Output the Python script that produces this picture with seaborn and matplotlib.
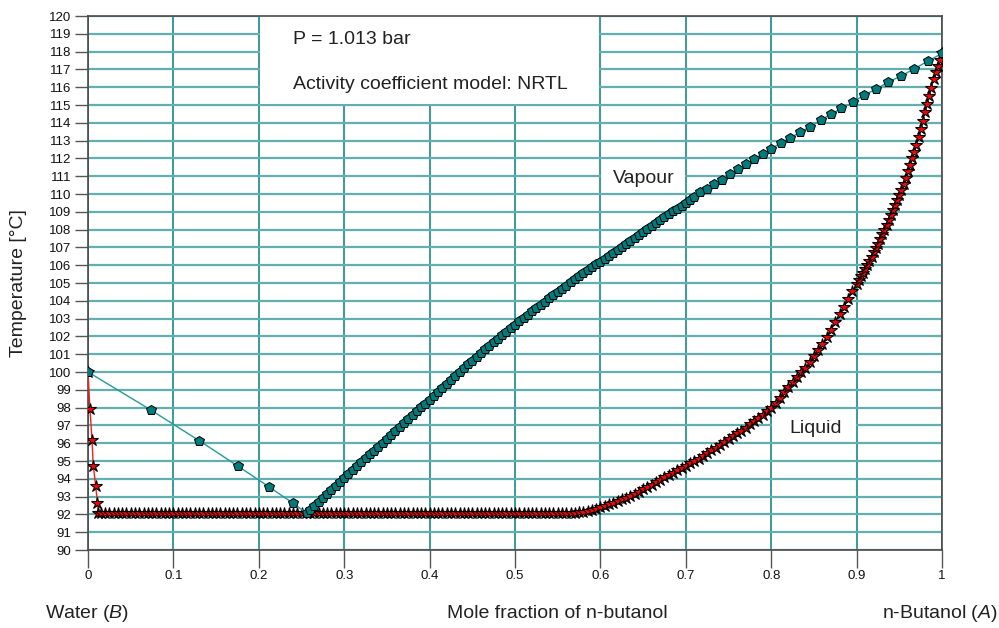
import matplotlib
matplotlib.use("Agg")
import matplotlib.pyplot as plt
from matplotlib.patches import Rectangle
import seaborn as sns

sns.set_style("white")
plt.rcParams["font.family"] = ["Liberation Sans", "DejaVu Sans"]
plt.rcParams["mathtext.fontset"] = "custom"
plt.rcParams["mathtext.rm"] = "Liberation Sans"
plt.rcParams["mathtext.it"] = "Liberation Sans:italic"

# --- data (water / n-butanol, 1.013 bar) ---
T_HET = 92.06  # three-phase temperature

liq_left_x = [0.0, 0.0023, 0.0047, 0.0062, 0.009, 0.011]
liq_left_t = [100.0, 97.9, 96.18, 94.72, 93.6, 92.66]

liq_flat_x = [
    0.012, 0.015, 0.02, 0.025, 0.03, 0.035, 0.04, 0.045, 0.05, 0.055, 0.06,
    0.065, 0.07, 0.075, 0.08, 0.085, 0.09, 0.095, 0.1, 0.105, 0.11, 0.115,
    0.12, 0.125, 0.13, 0.135, 0.14, 0.145, 0.15, 0.155, 0.16, 0.165, 0.17,
    0.175, 0.18, 0.185, 0.19, 0.195, 0.2, 0.205, 0.21, 0.215, 0.22, 0.225,
    0.23, 0.235, 0.24, 0.245, 0.25, 0.255, 0.26, 0.265, 0.27, 0.275, 0.28,
    0.285, 0.29, 0.295, 0.3, 0.305, 0.31, 0.315, 0.32, 0.325, 0.33, 0.335,
    0.34, 0.345, 0.35, 0.355, 0.36, 0.365, 0.37, 0.375, 0.38, 0.385, 0.39,
    0.395, 0.4, 0.405, 0.41, 0.415, 0.42, 0.425, 0.43, 0.435, 0.44, 0.445,
    0.45, 0.455, 0.46, 0.465, 0.47, 0.475, 0.48, 0.485, 0.49, 0.495, 0.5,
    0.505, 0.51, 0.515, 0.52, 0.525, 0.53, 0.535, 0.54, 0.545, 0.55, 0.555,
    0.56, 0.565,
]

liq_rise_x = [
    0.57, 0.575, 0.58, 0.585, 0.59, 0.595, 0.6, 0.605, 0.61, 0.615, 0.62,
    0.625, 0.63, 0.635, 0.64, 0.645, 0.65, 0.655, 0.66, 0.665, 0.67, 0.675,
    0.68, 0.685, 0.69, 0.695, 0.7, 0.705, 0.71, 0.715, 0.72, 0.725, 0.73,
    0.735, 0.74, 0.745, 0.75, 0.755, 0.76, 0.765, 0.77, 0.775, 0.78, 0.785,
    0.79, 0.795, 0.8, 0.805, 0.81, 0.815, 0.82, 0.825, 0.83, 0.835, 0.84,
    0.845, 0.85, 0.855, 0.86, 0.865, 0.87, 0.875, 0.88, 0.885, 0.89, 0.895,
    0.9, 0.9025, 0.905, 0.9075, 0.91, 0.9125, 0.915, 0.9175, 0.92, 0.9225,
    0.925, 0.9275, 0.93, 0.9325, 0.935, 0.9375, 0.94, 0.9425, 0.945, 0.9475,
    0.95, 0.9525, 0.955, 0.9575, 0.96, 0.9625, 0.965, 0.9675, 0.97, 0.9725,
    0.975, 0.9775, 0.98, 0.9825, 0.985, 0.9875, 0.99, 0.9925, 0.995, 0.9975,
    1.0,
]
liq_rise_t = [
    92.08, 92.12, 92.16, 92.21, 92.27, 92.33, 92.40, 92.48, 92.56, 92.65, 92.74,
    92.84, 92.94, 93.05, 93.16, 93.28, 93.40, 93.53, 93.67, 93.80, 93.94, 94.08,
    94.22, 94.35, 94.48, 94.60, 94.72, 94.86, 94.99, 95.13, 95.28, 95.44, 95.60,
    95.75, 95.91, 96.07, 96.23, 96.39, 96.55, 96.71, 96.88, 97.06, 97.24, 97.42,
    97.61, 97.80, 98.00, 98.28, 98.56, 98.85, 99.15, 99.44, 99.71, 99.98, 100.25,
    100.56, 100.88, 101.21, 101.58, 101.98, 102.38, 102.80, 103.24, 103.68, 104.10, 104.53,
    104.95, 105.16, 105.37, 105.57, 105.78, 106.01, 106.25, 106.48, 106.72, 106.95,
    107.19, 107.45, 107.73, 108.00, 108.28, 108.55, 108.83, 109.10, 109.38, 109.66,
    109.95, 110.25, 110.55, 110.92, 111.30, 111.65, 112.00, 112.38, 112.75, 113.20,
    113.65, 114.12, 114.60, 115.05, 115.50, 115.98, 116.45, 116.85, 117.20, 117.55,
    117.90,
]

vap_left_x = [0.0, 0.0734, 0.1303, 0.1753, 0.2115, 0.2404, 0.256]
vap_left_t = [100.0, 97.87, 96.14, 94.72, 93.56, 92.62, 92.06]

vap_mid_x = [
    0.26, 0.265, 0.27, 0.275, 0.28, 0.285, 0.29, 0.295, 0.3, 0.305, 0.31,
    0.315, 0.32, 0.325, 0.33, 0.335, 0.34, 0.345, 0.35, 0.355, 0.36, 0.365,
    0.37, 0.375, 0.38, 0.385, 0.39, 0.395, 0.4, 0.405, 0.41, 0.415, 0.42,
    0.425, 0.43, 0.435, 0.44, 0.445, 0.45, 0.455, 0.46, 0.465, 0.47, 0.475,
    0.48, 0.485, 0.49, 0.495, 0.5, 0.505, 0.51, 0.515, 0.52, 0.525, 0.53,
    0.535, 0.54, 0.545, 0.55, 0.555, 0.56, 0.565, 0.57, 0.575, 0.58, 0.585,
    0.59, 0.595, 0.6, 0.605, 0.61, 0.615, 0.62, 0.625, 0.63, 0.635, 0.64,
    0.645, 0.65, 0.655, 0.66, 0.665, 0.67, 0.675, 0.68, 0.685, 0.69, 0.695,
    0.7, 0.705, 0.71,
]
vap_mid_t = [
    92.24, 92.47, 92.70, 92.93, 93.15, 93.38, 93.60, 93.83, 94.05, 94.27, 94.49,
    94.71, 94.93, 95.15, 95.37, 95.59, 95.81, 96.03, 96.25, 96.47, 96.69, 96.91,
    97.13, 97.35, 97.57, 97.79, 98.01, 98.23, 98.45, 98.67, 98.89, 99.11, 99.33,
    99.55, 99.77, 99.99, 100.21, 100.43, 100.64, 100.85, 101.06, 101.27, 101.47, 101.67,
    101.87, 102.07, 102.27, 102.47, 102.66, 102.85, 103.04, 103.23, 103.42, 103.60, 103.78,
    103.96, 104.14, 104.32, 104.50, 104.68, 104.86, 105.03, 105.20, 105.37, 105.54, 105.71,
    105.88, 106.04, 106.20, 106.37, 106.53, 106.70, 106.87, 107.03, 107.20, 107.37, 107.54,
    107.70, 107.87, 108.03, 108.20, 108.37, 108.53, 108.70, 108.86, 109.02, 109.18, 109.34,
    109.50, 109.68, 109.86,
]

vap_top_x = [
    0.7166, 0.7245, 0.733, 0.7424, 0.7518, 0.7608, 0.7705, 0.7799, 0.79,
    0.7998, 0.8115, 0.822, 0.8337, 0.8454, 0.858, 0.8697, 0.8821, 0.8958,
    0.9083, 0.9227, 0.9368, 0.952, 0.9676, 0.9836, 1.0,
]
vap_top_t = [
    110.11, 110.30, 110.56, 110.79, 111.12, 111.39, 111.66, 111.97, 112.26,
    112.54, 112.88, 113.15, 113.47, 113.78, 114.16, 114.48, 114.81, 115.15,
    115.56, 115.88, 116.29, 116.63, 117.04, 117.47, 117.90,
]

xtick_vals = [0.0, 0.1, 0.2, 0.3, 0.4, 0.5, 0.6, 0.7, 0.8, 0.9, 1.0]
xtick_labels = ["0", "0.1", "0.2", "0.3", "0.4", "0.5", "0.6", "0.7", "0.8", "0.9", "1"]
ytick_vals = list(range(90, 121))

liq_x = liq_left_x + liq_flat_x + liq_rise_x
liq_t = liq_left_t + [T_HET for _ in liq_flat_x] + liq_rise_t
vap_x = vap_left_x + vap_mid_x + vap_top_x
vap_t = vap_left_t + vap_mid_t + vap_top_t

# --- figure ---
fig = plt.figure(figsize=(9.99, 6.28), dpi=100)
ax = fig.add_axes([0.0881, 0.1242, 0.8549, 0.8503])

sns.lineplot(x=liq_x, y=liq_t, ax=ax, sort=False, estimator=None,
             color="#ff1a1a", linewidth=1.0, marker="*", markersize=9,
             markerfacecolor="#ff0000", markeredgecolor="black",
             markeredgewidth=0.8, zorder=3)
sns.lineplot(x=vap_x, y=vap_t, ax=ax, sort=False, estimator=None,
             color="#239b9b", linewidth=1.0, marker="p", markersize=7,
             markerfacecolor="#007b7b", markeredgecolor="black",
             markeredgewidth=0.7, zorder=4)

ax.set_xlim(0, 1)
ax.set_ylim(90, 120)
ax.set_xticks(xtick_vals)
ax.set_xticklabels(xtick_labels)
ax.set_yticks(ytick_vals)
ax.set_xlabel("")
ax.set_ylabel("")

ax.set_axisbelow(True)
ax.grid(axis="y", color="#63aeae", linewidth=1.6)
ax.grid(axis="x", color="#2a9292", linewidth=1.3)

for side in ["left", "right", "top", "bottom"]:
    ax.spines[side].set_color("#4a4a4a")
    ax.spines[side].set_linewidth(1.2)

ax.tick_params(axis="x", bottom=True, direction="out", length=13, width=1,
               color="#555555", labelsize=9.5, pad=1.5, labelcolor="#111111")
ax.tick_params(axis="y", left=True, direction="out", length=9.5, width=1,
               color="#555555", labelsize=9.5, pad=2.5, labelcolor="#111111")

# white boxes behind the annotations
ax.add_patch(Rectangle((0.2012, 115.05), 0.3976, 4.95, facecolor="white",
                       edgecolor="none", zorder=1))
ax.add_patch(Rectangle((0.6012, 110.3), 0.0976, 1.4, facecolor="white",
                       edgecolor="none", zorder=1))
ax.add_patch(Rectangle((0.8012, 96.3), 0.0976, 1.4, facecolor="white",
                       edgecolor="none", zorder=1))

txt = dict(fontsize=14, color="#222222", va="baseline", ha="left", zorder=5)
ax.text(0.240, 118.41, "P = 1.013 bar", **txt)
ax.text(0.240, 115.88, "Activity coefficient model: NRTL", **txt)
ax.text(0.6148, 110.62, "Vapour", **txt)
ax.text(0.8208, 96.59, "Liquid", **txt)

fig.text(18.5 / 999, 1 - 283 / 628, "Temperature [°C]", rotation=90,
         ha="center", va="center", fontsize=14, color="#222222")
fig.text(45 / 999, 1 - 614 / 628, r"Water ($\mathit{B}$)", ha="left",
         va="center", fontsize=14, color="#222222")
fig.text(447 / 999, 1 - 614 / 628, "Mole fraction of n-butanol", ha="left",
         va="center", fontsize=14, color="#222222")
fig.text(998 / 999, 1 - 614 / 628, r"n-Butanol ($\mathit{A}$)", ha="right",
         va="center", fontsize=14, color="#222222")

fig.savefig("out.png", dpi=100)
